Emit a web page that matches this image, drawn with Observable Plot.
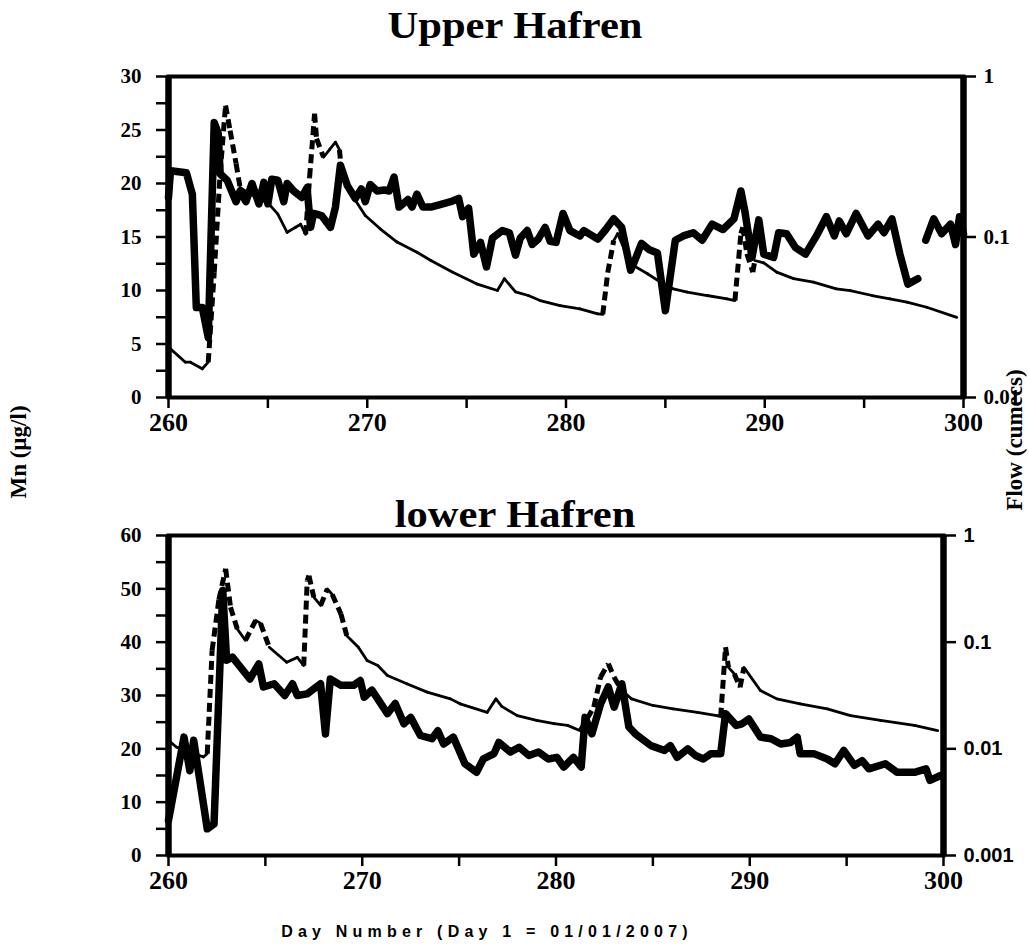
<!DOCTYPE html>
<html><head><meta charset="utf-8">
<script src="https://cdn.jsdelivr.net/npm/d3@7"></script>
<script src="https://cdn.jsdelivr.net/npm/@observablehq/plot@0.6"></script>
<style>
body{margin:0;background:#fff;}
#page{position:relative;width:1029px;height:947px;overflow:hidden;background:#fff;}
#page > svg{position:absolute;left:0;}
</style></head><body><div id="page"></div>
<script>
// ---------- data ----------
const xDomain = [260, 300];
const xTicks = [260, 265, 270, 275, 280, 285, 290, 295, 300];
const upperMnTicks = [0, 2.5, 5, 7.5, 10, 12.5, 15, 17.5, 20, 22.5, 25, 27.5, 30];
const lowerMnTicks = [0, 5, 10, 15, 20, 25, 30, 35, 40, 45, 50, 55, 60];
const upperFlowTicks = [0.01, 0.1, 1];
const lowerFlowTicks = [0.001, 0.01, 0.1, 1];
const upperMnDomain = [0, 30];
const lowerMnDomain = [0, 60];
const upperFlowDomain = [0.01, 1];
const lowerFlowDomain = [0.001, 1];

const upperDays = [260,260.1,260.9,261.2,261.4,261.7,262.0,262.3,262.5,262.6,262.95,263.4,263.6,263.9,264.2,264.55,264.8,265.0,265.2,265.5,265.8,265.97,266.3,266.7,266.97,267.15,267.3,267.7,268.15,268.4,268.65,269.0,269.4,269.7,269.9,270.15,270.5,270.85,271.1,271.35,271.6,272.05,272.25,272.5,272.8,273.2,273.8,274.2,274.6,274.8,275.1,275.36,275.7,276.0,276.3,276.8,277.15,277.46,277.7,278.05,278.3,278.6,278.95,279.2,279.5,279.85,280.2,280.7,280.9,281.6,282.0,282.4,282.8,283.25,283.4,283.8,284.2,284.6,285.0,285.5,285.9,286.4,286.85,287.35,287.9,288.45,288.8,289.0,289.36,289.7,289.95,290.45,290.7,291.1,291.55,292.05,292.6,293.1,293.5,293.75,294.1,294.6,295.2,295.7,296.0,296.4,296.8,297.2,297.7,297.9,298.1,298.5,298.9,299.35,299.6,299.8,300];
const upperMn = [18.7,21.2,21,19,8.4,8.4,5.6,25.7,24.7,20.9,20.3,18.3,19.3,18.3,20,18.1,20.1,18.1,20.4,20.3,18.3,20,19.3,18.7,19.6,15.9,17.2,17,15.9,17.8,21.7,19.8,18.6,19.5,18.3,19.9,19.3,19.4,19.3,20.6,17.8,18.5,17.8,19,17.8,17.8,18.1,18.3,18.6,16.9,17.7,13.4,14.5,12.2,14.9,15.6,15.4,13.3,14.9,15.6,14.3,14.8,15.9,14.6,14.5,17.2,15.6,15.1,15.6,14.8,15.7,16.7,15.9,11.9,12.5,14.4,13.8,13.5,8.1,14.7,15.1,15.4,14.7,16.2,15.7,16.7,19.3,17.4,13.1,16.6,13.4,13.1,15.4,15.3,14,13.4,15.1,16.9,15.1,16.5,15.3,17.2,15.1,16.2,15.4,16.7,13.4,10.6,11.1,null,14.7,16.7,15.3,16.2,14.3,16.9,15.3];

const upperFlowDays = [260,260.85,261.1,261.7,262.0,262.3,262.6,262.87,263.1,263.4,263.6,264.1,264.6,265.05,265.5,265.97,266.4,266.65,266.9,267.1,267.35,267.45,267.8,268.1,268.4,268.6,268.7,269.3,269.9,270.65,271.5,272.5,273.2,274.3,275.5,276.55,276.9,277.46,278.1,278.7,279.7,280.7,281.6,281.85,282.1,282.4,282.6,283.25,284.1,284.75,285.4,286.1,287.1,288.1,288.5,288.8,288.9,289.1,289.4,289.5,289.95,290.6,291.45,292.45,293.6,294.3,295.4,296.3,297.15,298.15,299.66];
const upperFlow = [0.0206,0.0166,0.0166,0.0151,0.0166,0.06,0.25,0.66,0.46,0.287,0.204,0.185,0.172,0.161,0.139,0.107,0.115,0.12,0.104,0.236,0.586,0.41,0.314,0.35,0.39,0.35,0.26,0.177,0.136,0.1125,0.093,0.0804,0.0714,0.0604,0.0511,0.0464,0.055,0.0455,0.0432,0.0402,0.0374,0.0357,0.0332,0.033,0.06,0.095,0.105,0.068,0.059,0.0523,0.0475,0.0454,0.0432,0.0412,0.0402,0.105,0.115,0.0786,0.0604,0.0714,0.069,0.0604,0.055,0.0523,0.0475,0.0464,0.0432,0.0412,0.0393,0.0365,0.0316];

const lowerDays = [260,260.8,261.1,261.3,262.0,262.35,262.8,263.0,263.3,264.2,264.66,264.9,265.45,266.0,266.4,266.65,267.15,267.85,268.1,268.35,268.9,269.55,269.9,270.1,270.5,271.3,271.7,272.15,272.5,273.0,273.6,273.9,274.2,274.7,275.3,275.9,276.25,276.8,277.05,277.65,278.1,278.6,279.1,279.6,280.05,280.4,280.9,281.3,281.5,281.85,282.3,282.7,283.0,283.4,283.76,284.1,284.9,285.6,285.9,286.25,286.8,287.2,287.6,288.0,288.5,288.75,289.3,289.6,289.95,290.55,291.1,291.6,292.1,292.45,292.6,293.3,294.0,294.4,294.85,295.4,295.8,296.15,297.0,297.6,298.5,299.1,299.3,299.85];
const lowerMn = [6.6,22.2,15.9,21.6,5.0,5.9,49.7,36.6,37.2,33.1,35.9,31.6,32.2,30,32.2,30,30.3,32.2,22.8,33.1,31.9,31.9,32.8,29.7,31,26.6,28.5,24.7,25.9,22.5,21.9,23.4,20.9,22.2,17.2,15.6,18.1,19.1,21.2,19.4,20.3,18.75,19.4,18.1,18.4,16.6,18.4,16.6,25.9,22.8,28.4,31.6,27.8,32.2,24.1,22.8,20.6,19.7,20.6,18.4,20,18.75,18.1,19.1,19.1,26.6,24.4,24.7,25.6,22.2,21.9,20.9,21.2,22.2,19.1,19.1,18.1,17.2,19.7,16.9,17.8,16.25,17.2,15.6,15.6,16.25,14.1,15.0];

const lowerFlowDays = [260,260.4,261.3,261.8,262.0,262.25,262.6,262.95,263.2,263.55,263.97,264.5,264.75,265.2,266.1,266.65,266.98,267.16,267.25,267.5,267.85,268.2,268.45,268.9,269.2,269.8,270.25,270.8,271.3,272.3,273.35,274.55,275.05,276.45,276.9,277.2,278.0,279.0,279.9,280.6,281.25,281.95,282.3,282.7,283.0,283.4,283.9,285.0,286.05,287.3,288.3,288.5,288.75,288.9,289.2,289.5,289.7,290.55,291.4,292.6,294.0,295.2,296.75,298.5,299.7];
const lowerFlow = [0.012,0.0104,0.009,0.0084,0.009,0.0836,0.25,0.487,0.213,0.133,0.104,0.16,0.15,0.0897,0.0649,0.072,0.0604,0.378,0.42,0.264,0.221,0.316,0.28,0.184,0.115,0.0897,0.0673,0.0604,0.0487,0.0407,0.034,0.0294,0.0264,0.022,0.0294,0.025,0.0205,0.0185,0.0172,0.0166,0.0148,0.0246,0.047,0.0627,0.047,0.0352,0.0294,0.0255,0.0237,0.022,0.0205,0.02,0.09,0.058,0.0506,0.0378,0.058,0.0352,0.0294,0.0264,0.0237,0.0205,0.0185,0.0166,0.0148];

// ---------- helpers ----------
const SERIF = "'Liberation Serif', 'Times New Roman', serif";
const SANS = "'Liberation Sans', Arial, sans-serif";
const toRows = (days, vals) => days.map((d, i) => ({day: d, v: vals[i]}));
function flowSegments(days, flows) {
  const segs = [];
  for (let i = 0; i < days.length - 1; i++) {
    const rate = Math.log10(flows[i + 1] / flows[i]) / (days[i + 1] - days[i]);
    segs.push({x1: days[i], y1: flows[i], x2: days[i + 1], y2: flows[i + 1], steep: Math.abs(rate) > 0.3});
  }
  return segs;
}
const fmtNum = d => String(d);

function mnChart({days, mn, yDomain, yTicks, labelEvery, mt, mb, mr, h}) {
  return Plot.plot({
    width: 1029, height: h,
    marginLeft: 168, marginRight: mr, marginTop: mt, marginBottom: mb,
    style: {background: "transparent", fontFamily: SERIF, fontWeight: "bold", color: "#000"},
    x: {domain: xDomain, axis: null},
    y: {domain: yDomain, axis: null},
    marks: [
      Plot.axisY({ticks: yTicks, tickSize: 12, tickPadding: 15, strokeWidth: 2.5,
        tickFormat: d => (d % labelEvery === 0 ? fmtNum(d) : ""), fontSize: 21, fontWeight: "bold", label: null}),
      Plot.axisX({ticks: xTicks, tickSize: 11, tickPadding: 4, strokeWidth: 2.5,
        tickFormat: d => (d % 10 === 0 ? fmtNum(d) : ""), fontSize: 26, fontWeight: "bold", label: null}),
      Plot.frame({strokeWidth: 4}),
      Plot.ruleX(xDomain, {strokeWidth: 6.5}),
      Plot.line(toRows(days, mn), {x: "day", y: "v", strokeWidth: 7.5, strokeLinejoin: "round", strokeLinecap: "round"})
    ]
  });
}

function flowChart({fdays, flow, yDomain, yTicks, mt, mb, mr, h, font, fsize}) {
  const segs = flowSegments(fdays, flow);
  return Plot.plot({
    width: 1029, height: h,
    marginLeft: 168, marginRight: mr, marginTop: mt, marginBottom: mb,
    style: {background: "transparent", fontFamily: font, fontWeight: "bold", color: "#000"},
    x: {domain: xDomain, axis: null},
    y: {type: "log", domain: yDomain, axis: null},
    marks: [
      Plot.axisY({anchor: "right", ticks: yTicks, tickSize: 12, tickPadding: 8, strokeWidth: 2.5,
        tickFormat: fmtNum, fontSize: fsize, fontWeight: "bold", fontFamily: font, label: null}),
      Plot.link(segs, {filter: d => !d.steep, x1: "x1", y1: "y1", x2: "x2", y2: "y2",
        strokeWidth: 2.8, strokeLinecap: "round"}),
      Plot.link(segs, {filter: d => d.steep, x1: "x1", y1: "y1", x2: "x2", y2: "y2",
        strokeWidth: 5, strokeDasharray: "9,5", strokeLinecap: "butt"})
    ]
  });
}

// ---------- build ----------
const page = document.getElementById("page");
function place(el, top) { el.style.top = top + "px"; page.appendChild(el); }

place(mnChart({days: upperDays, mn: upperMn, yDomain: upperMnDomain, yTicks: upperMnTicks, labelEvery: 5, mt: 76, mb: 43, mr: 66, h: 440}), 0);
place(flowChart({fdays: upperFlowDays, flow: upperFlow, yDomain: upperFlowDomain, yTicks: upperFlowTicks, mt: 76, mb: 43, mr: 66, h: 440, font: SERIF, fsize: 21}), 0);
place(mnChart({days: lowerDays, mn: lowerMn, yDomain: lowerMnDomain, yTicks: lowerMnTicks, labelEvery: 10, mt: 75, mb: 45, mr: 86, h: 440}), 460);
place(flowChart({fdays: lowerFlowDays, flow: lowerFlow, yDomain: lowerFlowDomain, yTicks: lowerFlowTicks, mt: 75, mb: 45, mr: 86, h: 440, font: SANS, fsize: 20}), 460);

// titles and axis titles overlay
const ns = "http://www.w3.org/2000/svg";
const ov = document.createElementNS(ns, "svg");
ov.setAttribute("width", 1029); ov.setAttribute("height", 947);
ov.style.top = "0px"; ov.style.pointerEvents = "none";
function addText(str, x, y, tf, font, size, extra) {
  const t = document.createElementNS(ns, "text");
  t.textContent = str;
  t.setAttribute("x", 0); t.setAttribute("y", 0);
  t.setAttribute("transform", `translate(${x},${y}) ${tf}`);
  t.setAttribute("text-anchor", "middle");
  t.setAttribute("font-family", font);
  t.setAttribute("font-weight", "bold");
  t.setAttribute("font-size", size);
  if (extra) for (const k in extra) t.setAttribute(k, extra[k]);
  ov.appendChild(t);
}
addText("Upper Hafren", 515, 38, "scale(1.12,1)", SERIF, 38);
addText("lower Hafren", 515, 527, "scale(1.12,1)", SERIF, 38);
addText("Mn (µg/l)", 21, 452, "rotate(-90)", SERIF, 23, {"dominant-baseline": "middle"});
addText("Flow (cumecs)", 1017, 440, "rotate(-90)", SERIF, 23, {"dominant-baseline": "middle"});
addText("Day Number (Day 1 = 01/01/2007)", 487, 937, "", SANS, 16, {"letter-spacing": "5.2"});
page.appendChild(ov);
</script>
</body></html>
